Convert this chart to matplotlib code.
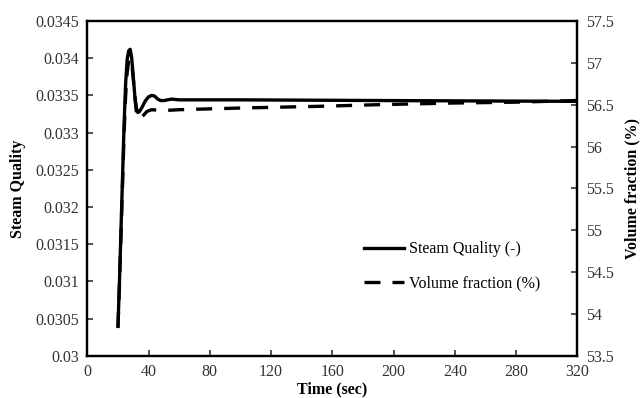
import matplotlib.pyplot as plt
from matplotlib.lines import Line2D

# Transient response after the step at t = 20 s
time_sq = [20, 21, 22, 23, 24, 25, 26, 27, 28, 29, 30, 31, 32, 33, 34, 36,
           38, 40, 42, 44, 46, 48, 50, 55, 60, 100, 200, 320]
steam_quality = [0.03038, 0.0310, 0.0317, 0.0324, 0.0331, 0.03365, 0.03398,
                 0.03410, 0.03412, 0.03400, 0.03375, 0.03350, 0.03333, 0.03327,
                 0.03328, 0.03335, 0.03343, 0.03348, 0.03350, 0.03349, 0.03345,
                 0.03343, 0.03343, 0.03345, 0.03344, 0.03344, 0.03343, 0.03342]

time_vf = [20, 21, 22, 23, 24, 25, 26, 27, 28, 29, 30, 31, 32, 33.5, 36, 39,
           42, 50, 60, 100, 150, 190, 240, 280, 320]
volume_fraction = [53.83, 54.35, 54.95, 55.55, 56.15, 56.60, 56.88, 57.02,
                   57.05, 56.98, 56.82, 56.60, 56.42, 56.33, 56.36, 56.42,
                   56.44, 56.43, 56.44, 56.46, 56.48, 56.50, 56.52, 56.53, 56.55]

xticks = list(range(0, 321, 40))
left_ticks = [0.03, 0.0305, 0.031, 0.0315, 0.032, 0.0325, 0.033, 0.0335, 0.034, 0.0345]
left_labels = ["0.03", "0.0305", "0.031", "0.0315", "0.032", "0.0325",
               "0.033", "0.0335", "0.034", "0.0345"]
right_ticks = [53.5, 54, 54.5, 55, 55.5, 56, 56.5, 57, 57.5]
right_labels = ["53.5", "54", "54.5", "55", "55.5", "56", "56.5", "57", "57.5"]

plt.rcParams.update({
    "font.family": ["Liberation Serif", "DejaVu Serif"],
    "font.size": 11.5,
    "axes.linewidth": 1.6,
})

fig = plt.figure(figsize=(6.43, 3.98), dpi=100, facecolor="white")
ax = fig.add_axes([0.1358, 0.1063, 0.7620, 0.8409])
ax2 = ax.twinx()

lw = 2.4
dash = (0, (4.8, 3.6))
ax.plot(time_sq, steam_quality, color="black", linewidth=lw, solid_capstyle="butt")
ax2.plot(time_vf, volume_fraction, color="black", linewidth=lw, linestyle=dash)

ax.set_xlim(0, 320)
ax.set_ylim(0.03, 0.0345)
ax2.set_ylim(53.5, 57.5)
ax.set_xticks(xticks)
ax.set_xticklabels([str(v) for v in xticks])
ax.set_yticks(left_ticks)
ax.set_yticklabels(left_labels)
ax2.set_yticks(right_ticks)
ax2.set_yticklabels(right_labels)

for a in (ax, ax2):
    a.tick_params(direction="in", length=4, width=1.2, colors="#333333",
                  labelcolor="#333333", labelsize=11.5, pad=6)
    for sp in a.spines.values():
        sp.set_color("black")

ax.set_xlabel("Time (sec)", fontweight="bold", fontsize=11.5, labelpad=1)
ax.set_ylabel("Steam Quality", fontweight="bold", fontsize=11.5, labelpad=7)
ax2.set_ylabel("Volume fraction (%)", fontweight="bold", fontsize=11.5, labelpad=8)

handles = [Line2D([], [], color="black", linewidth=lw),
           Line2D([], [], color="black", linewidth=lw, linestyle=dash)]
ax2.legend(handles, ["Steam Quality (-)", "Volume fraction (%)"],
           loc="upper left", bbox_to_anchor=(0.535, 0.385), frameon=False,
           handlelength=2.5, handletextpad=0.3, labelspacing=1.15, fontsize=11.5)

fig.savefig("out.png", dpi=100, facecolor="white")
